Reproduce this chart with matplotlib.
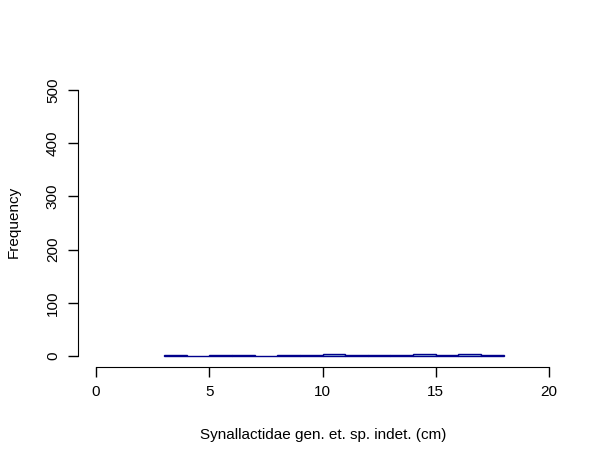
import matplotlib

matplotlib.use("Agg")
import matplotlib.pyplot as plt

# histogram of lengths, 1 cm bins from 3 to 18
bin_edges = [3, 4, 5, 6, 7, 8, 9, 10, 11, 12, 13, 14, 15, 16, 17, 18]
counts = [1, 0, 1, 1, 0, 1, 1, 3, 1, 1, 1, 3, 1, 3, 1]
x_ticks = [0, 5, 10, 15, 20]
y_ticks = [0, 100, 200, 300, 400, 500]

W, H = 609, 466
plt.rcParams["font.family"] = ["Liberation Sans", "DejaVu Sans"]
fig = plt.figure(figsize=(W / 100, H / 100), dpi=100)
ax = fig.add_axes([78 / W, 1 - 366.6 / H, (567 - 78) / W, (366.6 - 79.4) / H])

ax.bar(bin_edges[:-1], counts, width=1, align="edge",
       color="#ADD8E6", edgecolor="#00008B", linewidth=1.0)

ax.set_xlim(-0.8, 20.8)
ax.set_ylim(-20, 520)
for side in ("top", "right"):
    ax.spines[side].set_visible(False)
ax.spines["left"].set_bounds(0, 500)
ax.spines["bottom"].set_bounds(0, 20)
ax.set_xticks(x_ticks)
ax.set_yticks(y_ticks)
ax.set_yticklabels([str(v) for v in y_ticks], rotation=90, va="center")
ax.tick_params(length=7, width=1, labelsize=11, pad=6)

fig.text(323 / W, 1 - 435 / H, "Synallactidae gen. et. sp. indet. (cm)",
         ha="center", va="center", fontsize=11)
fig.text(14 / W, 1 - 222 / H, "Frequency", rotation=90,
         ha="center", va="center", fontsize=11)

fig.savefig("out.png", dpi=100)
